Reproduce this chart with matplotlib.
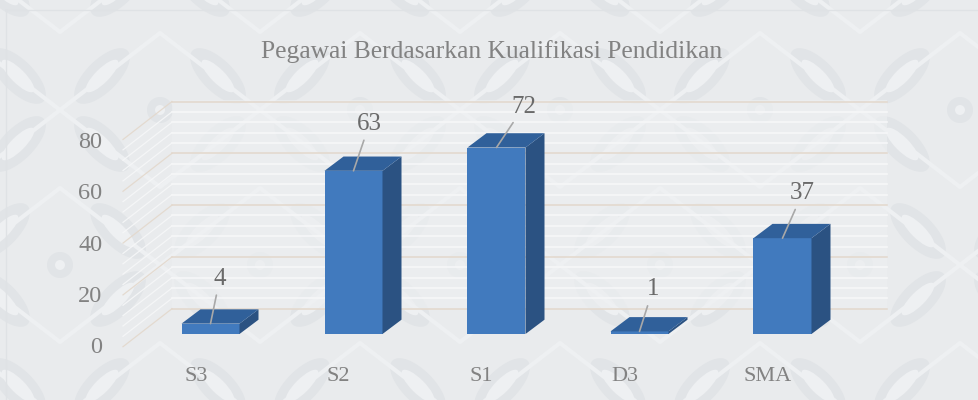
import matplotlib
matplotlib.use("Agg")
import matplotlib.pyplot as plt
from matplotlib.patches import Polygon, Ellipse, Rectangle, Circle

categories = ["S3", "S2", "S1", "D3", "SMA"]
values = [4, 63, 72, 1, 37]
y_ticks = [0, 20, 40, 60, 80]
title = "Pegawai Berdasarkan Kualifikasi Pendidikan"

W, H = 979, 400
FONT = ["Liberation Serif", "DejaVu Serif"]
BG = "#e9ebed"
MOTIF = "#e1e4e7"
MOTIF2 = "#eef0f2"

# layout in pixels
x0, xstep = 210.5, 143.0
y0, ppu = 334.0, 2.59
bar_w = 58 / xstep
dx, dy = 19 / xstep, 14.3 / ppu
wall_dy = 25.3 / ppu
label_off = [(9.3, 45), (16, 47), (27.3, 41), (13.3, 42), (20, 45)]

fig = plt.figure(figsize=(W / 100, H / 100), dpi=100, facecolor=BG)

# backdrop: pale batik texture in pixel space
bg = fig.add_axes([0, 0, 1, 1], zorder=0)
bg.set_xlim(0, W)
bg.set_ylim(H, 0)
bg.axis("off")
for row, cy in enumerate(range(-45, 460, 155)):
    for cx in range(-140 + (100 if row % 2 == 0 else 0), 1100, 200):
        for ang, ox, oy in [(45, -42, -34), (-45, 42, -34), (-45, -42, 34), (45, 42, 34)]:
            bg.add_patch(Ellipse((cx + ox, cy + oy), 72, 32, angle=ang, fc=MOTIF, ec="none"))
            bg.add_patch(Ellipse((cx + ox, cy + oy), 44, 14, angle=ang, fc=MOTIF2, ec="none"))
        for k in (-1, 1):
            bg.plot([cx, cx + k * 100], [cy, cy + 77], color=MOTIF2, lw=3, solid_capstyle="round")
            bg.plot([cx, cx + k * 100], [cy, cy - 77], color=MOTIF2, lw=3, solid_capstyle="round")
        bg.add_patch(Circle((cx + 100, cy), 13, fc=MOTIF, ec="none"))
        bg.add_patch(Circle((cx + 100, cy), 5, fc=MOTIF2, ec="none"))
bg.plot([6, 6], [10, H], color="#dfe2e5", lw=1)
bg.plot([6, W], [10, 10], color="#dfe2e5", lw=1)
bg.add_patch(Rectangle((172, 100), 715, 209, fc="#eceef0", alpha=0.7, ec="none"))

# main scene: x = category index, y = value
ax = fig.add_axes([0, 0, 1, 1], zorder=1)
ax.patch.set_alpha(0)
ax.set_xlim(-x0 / xstep, (W - x0) / xstep)
ax.set_ylim((y0 - H) / ppu, y0 / ppu)
ax.axis("off")

xf = (123 - x0) / xstep
xb = (172 - x0) / xstep
xr = (887 - x0) / xstep
for v in range(0, 81, 4):
    major = v % 20 == 0
    col = "#e3d8cc" if major else "#f6f7f8"
    lw = 1.1 if major else 1.2
    yb = v + wall_dy
    yf = v - 4.9
    ax.plot([xb, xr], [yb, yb], color=col, lw=lw, zorder=2 if major else 1)
    ax.plot([xf, xb], [yf, yb], color=col, lw=0.9, alpha=0.9, zorder=2 if major else 1)

for i, v in enumerate(values):
    l, r = i - bar_w / 2, i + bar_w / 2
    ax.bar(i, v, width=bar_w, color="#417abe", zorder=5, linewidth=0)
    ax.add_patch(Polygon([(r, 0), (r + dx, dy), (r + dx, v + dy), (r, v)],
                         closed=True, fc="#2b5282", ec="none", zorder=5))
    ax.add_patch(Polygon([(l, v), (l + dx, v + dy), (r + dx, v + dy), (r, v)],
                         closed=True, fc="#30609a", ec="none", zorder=5))
    ax.annotate(str(v), xy=(i, v), xytext=label_off[i], textcoords="offset pixels",
                ha="center", va="center", fontsize=18, family=FONT, color="#6a6a6a",
                arrowprops=dict(arrowstyle="-", color="#a8a8a8", lw=1.2, shrinkA=2, shrinkB=0),
                zorder=6)

fig.text(491.5 / W, 1 - 52 / H, title, ha="center", va="center",
         fontsize=18.4, family=FONT, color="#828282")

# front-left axis carrying the tick labels
ta = fig.add_axes([123 / W, 1 - 345 / H, (887 - 123) / W, (345 - 140) / H], zorder=2)
ta.patch.set_alpha(0)
ta.set_ylim(0, 80)
ta.set_xlim((123 - 195.7) / xstep, (887 - 195.7) / xstep)
ta.set_yticks(y_ticks)
ta.set_xticks(range(len(categories)))
ta.set_xticklabels(categories)
ta.tick_params(axis="y", length=0, pad=15, labelsize=17.5, labelcolor="#828282")
ta.tick_params(axis="x", length=0, pad=15.5, labelsize=16, labelcolor="#828282")
for t in ta.get_xticklabels() + ta.get_yticklabels():
    t.set_family(FONT)
for s in ta.spines.values():
    s.set_visible(False)

fig.savefig("out.png", dpi=100, facecolor=BG)
